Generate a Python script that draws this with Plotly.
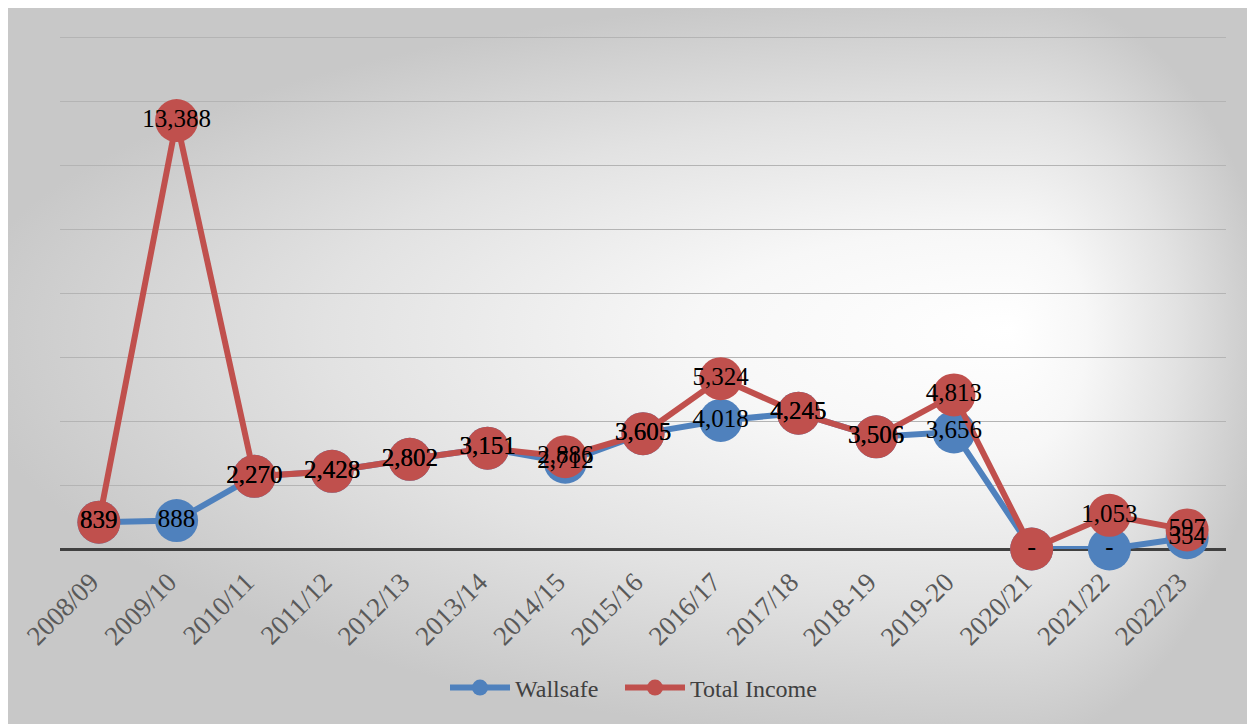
import plotly.graph_objects as go

# ---------------- data ----------------
categories = ["2008/09", "2009/10", "2010/11", "2011/12", "2012/13", "2013/14", "2014/15",
              "2015/16", "2016/17", "2017/18", "2018-19", "2019-20", "2020/21", "2021/22", "2022/23"]
wallsafe = [839, 888, 2270, 2428, 2802, 3151, 2712, 3605, 4018, 4245, 3506, 3656, 0, 0, 354]
total_income = [839, 13388, 2270, 2428, 2802, 3151, 2886, 3605, 5324, 4245, 3506, 4813, 0, 1053, 597]


def fmt(v):
    return "-" if v == 0 else f"{v:,}"


BLUE = "#4F81BD"
RED = "#C0504D"
FONT = "Liberation Serif"
W, H = 1247, 716   # page shows the figure offset by the 8px body margin

fig = go.Figure()
layout_axes = {}

# ---------------- background (offset radial gradient, built from 4 quadrants) ----------------
fxp, fyp = 1002, 322
L, T, R, B = 0, 0, W, H
quads = [(L, fxp, T, fyp), (fxp, R, T, fyp), (L, fxp, fyp, B), (fxp, R, fyp, B)]
scale = [[0, "#ffffff"], [0.3, "#f7f7f7"], [0.65, "#e2e2e2"], [1, "#c8c8c8"]]
for i, (x0, x1, y0, y1) in enumerate(quads):
    idx = "" if i == 0 else str(i + 1)
    rx = max(fxp - x0, x1 - fxp) / 0.95
    ry = max(fyp - y0, y1 - fyp) / 0.95
    fig.add_trace(go.Scatter(
        x=[fxp - rx, fxp + rx, fxp + rx, fxp - rx, fxp - rx],
        y=[fyp - ry, fyp - ry, fyp + ry, fyp + ry, fyp - ry],
        mode="lines", fill="toself", line=dict(width=0),
        fillgradient=dict(type="radial", colorscale=scale),
        hoverinfo="skip", showlegend=False,
        xaxis="x" + idx, yaxis="y" + idx,
    ))
    layout_axes["xaxis" + idx] = dict(domain=[x0 / W, x1 / W], range=[x0, x1], visible=False,
                                      fixedrange=True, anchor="y" + idx)
    layout_axes["yaxis" + idx] = dict(domain=[1 - y1 / H, 1 - y0 / H], range=[y1, y0], visible=False,
                                      fixedrange=True, anchor="x" + idx)

# ---------------- data traces ----------------
fig.add_trace(go.Scatter(
    x=categories, y=wallsafe, name="Wallsafe", mode="lines+markers",
    line=dict(color=BLUE, width=6), marker=dict(color=BLUE, size=43),
    cliponaxis=False, xaxis="x5", yaxis="y5", legend="legend",
))
fig.add_trace(go.Scatter(
    x=categories, y=total_income, name="Total Income", mode="lines+markers",
    line=dict(color=RED, width=6), marker=dict(color=RED, size=43),
    cliponaxis=False, xaxis="x5", yaxis="y5", legend="legend2",
))
for vals in (wallsafe, total_income):
    fig.add_trace(go.Scatter(
        x=categories, y=vals, mode="text", text=[fmt(v) for v in vals],
        textposition="middle center", textfont=dict(family=FONT, size=25, color="#000000"),
        cliponaxis=False, showlegend=False, hoverinfo="skip", xaxis="x5", yaxis="y5",
    ))

# y scale: 2000 units = 64 px; zero line at fig y=541; top gridline (16000) at fig y=29
Y_MAX = 16500
PX_PER_UNIT = 64 / 2000
layout_axes["xaxis5"] = dict(
    domain=[52 / W, 1218 / W], anchor="y5", type="category",
    range=[-0.5, len(categories) - 0.5], showgrid=False, zeroline=False,
    showline=False, tickangle=-45, ticks="", automargin=False,
    ticklabelstandoff=11, ticklabelshift=-8,
    tickfont=dict(family=FONT, size=27, color="#595959"),
)
layout_axes["yaxis5"] = dict(
    domain=[(H - 541) / H, (H - 541 + Y_MAX * PX_PER_UNIT) / H], anchor="x5",
    range=[0, Y_MAX], tickvals=list(range(0, 16001, 2000)),
    showgrid=True, gridcolor="#b4b4b4", gridwidth=1.3,
    zeroline=True, zerolinecolor="#404040", zerolinewidth=3,
    showticklabels=False, ticks="", showline=False, automargin=False,
)

legend_common = dict(orientation="h", xanchor="left", y=(H - 680) / H, yanchor="middle",
                     font=dict(family=FONT, size=24, color="#404040"),
                     bgcolor="rgba(0,0,0,0)", itemwidth=60)

fig.update_layout(
    width=W, height=H,
    margin=dict(l=0, r=0, t=0, b=0, autoexpand=False),
    paper_bgcolor="#ffffff", plot_bgcolor="rgba(0,0,0,0)",
    showlegend=True,
    legend=dict(x=437 / W, **legend_common),
    legend2=dict(x=612 / W, **legend_common),
    hovermode=False,
    **layout_axes,
)

fig.write_html("out.html")
